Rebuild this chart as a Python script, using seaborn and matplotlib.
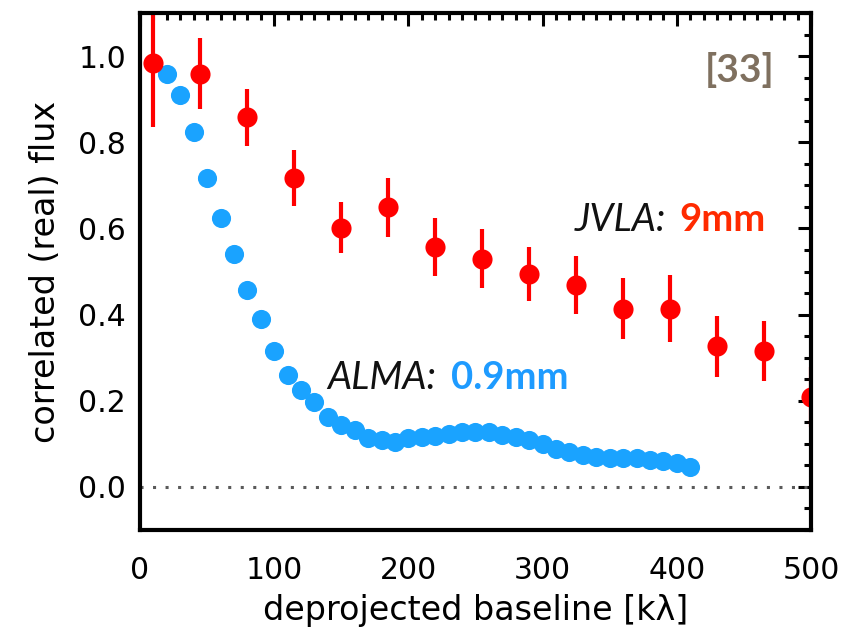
import matplotlib
matplotlib.use("Agg")
import matplotlib.pyplot as plt
import seaborn as sns
import numpy as np
import pandas as pd
from matplotlib.ticker import MultipleLocator

# ALMA 0.9 mm visibility profile (deprojected baseline in klambda)
alma_uv = [20, 30, 40, 50, 60, 70, 80, 90, 100, 110, 120, 130, 140, 150, 160,
           170, 180, 190, 200, 210, 220, 230, 240, 250, 260, 270, 280, 290,
           300, 310, 320, 330, 340, 350, 360, 370, 380, 390, 400, 410]
alma_flux = [0.959, 0.910, 0.823, 0.718, 0.625, 0.540, 0.458, 0.390, 0.316,
             0.260, 0.226, 0.197, 0.163, 0.144, 0.131, 0.114, 0.108, 0.105,
             0.114, 0.116, 0.119, 0.123, 0.128, 0.128, 0.128, 0.121, 0.116,
             0.108, 0.100, 0.088, 0.081, 0.074, 0.070, 0.066, 0.066, 0.066,
             0.062, 0.059, 0.055, 0.047]

# JVLA 9 mm visibility profile with 1-sigma uncertainties
jvla_uv = [10, 45, 80, 115, 150, 185, 220, 255, 290, 325, 360, 395, 430, 465, 500]
jvla_flux = [0.984, 0.959, 0.858, 0.718, 0.602, 0.649, 0.557, 0.530, 0.495,
             0.468, 0.414, 0.414, 0.326, 0.315, 0.209]
jvla_err = [0.148, 0.082, 0.066, 0.065, 0.059, 0.068, 0.067, 0.068, 0.063,
            0.067, 0.070, 0.077, 0.070, 0.070, 0.070]

alma = pd.DataFrame({"uv": alma_uv, "flux": alma_flux})
jvla = pd.DataFrame({"uv": jvla_uv, "flux": jvla_flux, "err": jvla_err})

sns.set_theme(style="white")
plt.rcParams["font.family"] = ["DejaVu Sans"]

BLUE = "#1aa3ff"
RED = "#ff0000"

fig = plt.figure(figsize=(8.45, 6.30), dpi=100)
ax = fig.add_axes([140 / 845, 100 / 630, 671 / 845, 517 / 630])

ax.axhline(0, color="#5a5a5a", lw=2.2, ls=(0, (1, 3.1)), zorder=1)

sns.scatterplot(data=alma, x="uv", y="flux", ax=ax, color=BLUE, s=190,
                linewidth=0, zorder=3, legend=False)
ax.errorbar(jvla["uv"], jvla["flux"], yerr=jvla["err"], fmt="none",
            ecolor=RED, elinewidth=3, capsize=0, zorder=4)
sns.scatterplot(data=jvla, x="uv", y="flux", ax=ax, color=RED, s=210,
                linewidth=0, zorder=5, legend=False)

ax.set_xlim(0, 500)
ax.set_ylim(-0.1, 1.1)
ax.xaxis.set_major_locator(MultipleLocator(100))
ax.xaxis.set_minor_locator(MultipleLocator(10))
ax.yaxis.set_major_locator(MultipleLocator(0.2))
ax.yaxis.set_minor_locator(MultipleLocator(0.05))
ax.yaxis.set_major_formatter(matplotlib.ticker.FormatStrFormatter("%.1f"))

ax.tick_params(which="both", direction="in", top=True, right=True,
               color="black", width=2.2, labelsize=21.5, labelcolor="black")
ax.tick_params(which="major", length=9.5)
ax.tick_params(which="minor", length=5)
ax.tick_params(axis="x", which="both", pad=19)
ax.tick_params(axis="y", which="both", pad=10)

for sp in ax.spines.values():
    sp.set_visible(True)
    sp.set_color("black")
    sp.set_linewidth(3)
    sp.set_zorder(6)

label_font = dict(family="DejaVu Sans", size=24, color="black")
ax.set_xlabel("deprojected baseline [k\u03bb]", labelpad=6, **label_font)
ax.set_ylabel("correlated (real) flux", labelpad=12, **label_font)

# Instrument annotations
ax.text(392, 0.593, "JVLA:", family="Lato", style="italic", size=27.5,
        color="#111111", ha="right", va="baseline")
ax.text(402, 0.593, "9mm", family="Lato", weight="bold", size=27.5,
        color="#ff2a00", ha="left", va="baseline")
ax.text(221, 0.228, "ALMA:", family="Lato", style="italic", size=27.5,
        color="#111111", ha="right", va="baseline")
ax.text(232, 0.228, "0.9mm", family="Lato", weight="bold", size=27.5,
        color="#1e9bff", ha="left", va="baseline")

ax.text(0.946, 0.89, "[33]", transform=ax.transAxes, family="Lato",
        weight="bold", size=28, color="#7f705f", ha="right", va="center")

fig.savefig("out.png", dpi=100)
